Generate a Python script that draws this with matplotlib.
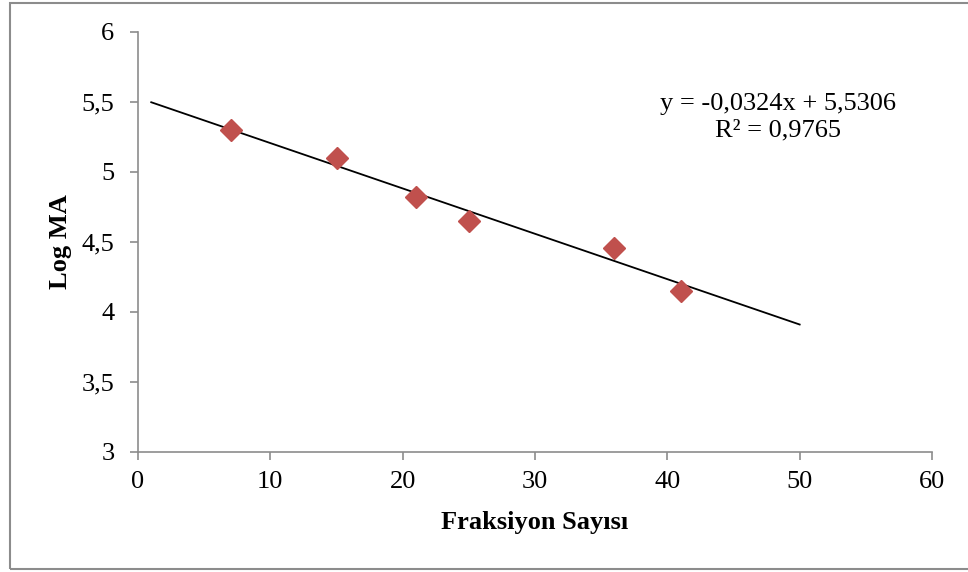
import matplotlib.pyplot as plt
from matplotlib.patches import Rectangle

fraksiyon = [7, 15, 21, 25, 36, 41]
log_ma = [5.30, 5.10, 4.82, 4.65, 4.46, 4.15]
slope = -0.0324
intercept = 5.5306
trend_x = [1, 50]
xticks = [0, 10, 20, 30, 40, 50, 60]
yticks = [3, 3.5, 4, 4.5, 5, 5.5, 6]
ytick_labels = ["3", "3,5", "4", "4,5", "5", "5,5", "6"]

plt.rcParams['font.family'] = ['Liberation Serif', 'DejaVu Serif']

fig = plt.figure(figsize=(9.68, 5.72), dpi=100)
fig.patches.append(Rectangle((10 / 968, 3 / 572), 1.0, 566 / 572, transform=fig.transFigure,
                             fill=False, edgecolor='#8c8c8c', linewidth=1.5))
ax = fig.add_axes([138 / 968, 1 - 452 / 572, 794 / 968, 420 / 572])

trend_y = [slope * x + intercept for x in trend_x]
ax.plot(trend_x, trend_y, color='black', linewidth=1.3, zorder=2)
ax.plot(fraksiyon, log_ma, linestyle='none', marker='D', markersize=11,
        color='#C0504D', zorder=3)

ax.set_xlim(0, 60)
ax.set_ylim(3, 6)
ax.set_xticks(xticks)
ax.set_yticks(yticks)
ax.set_yticklabels(ytick_labels)
ax.tick_params(direction='out', length=6, width=1.2, color='#8c8c8c', labelsize=19)
ax.tick_params(axis='y', pad=11)
ax.tick_params(axis='x', pad=8)
for side in ['top', 'right']:
    ax.spines[side].set_visible(False)
for side in ['left', 'bottom']:
    ax.spines[side].set_color('#8c8c8c')
    ax.spines[side].set_linewidth(1.2)

ax.text(48.4, 5.39, "y = -0,0324x + 5,5306\nR² = 0,9765", ha='center', va='center',
        fontsize=19, linespacing=1.25)

fig.text(535 / 968, 1 - 522 / 572, "Fraksiyon Sayısı", ha='center', va='center',
         fontsize=19, fontweight='bold')
fig.text(61 / 968, 1 - 242 / 572, "Log MA", ha='center', va='center', rotation=90,
         fontsize=19, fontweight='bold')

fig.savefig("out.png", dpi=100)
